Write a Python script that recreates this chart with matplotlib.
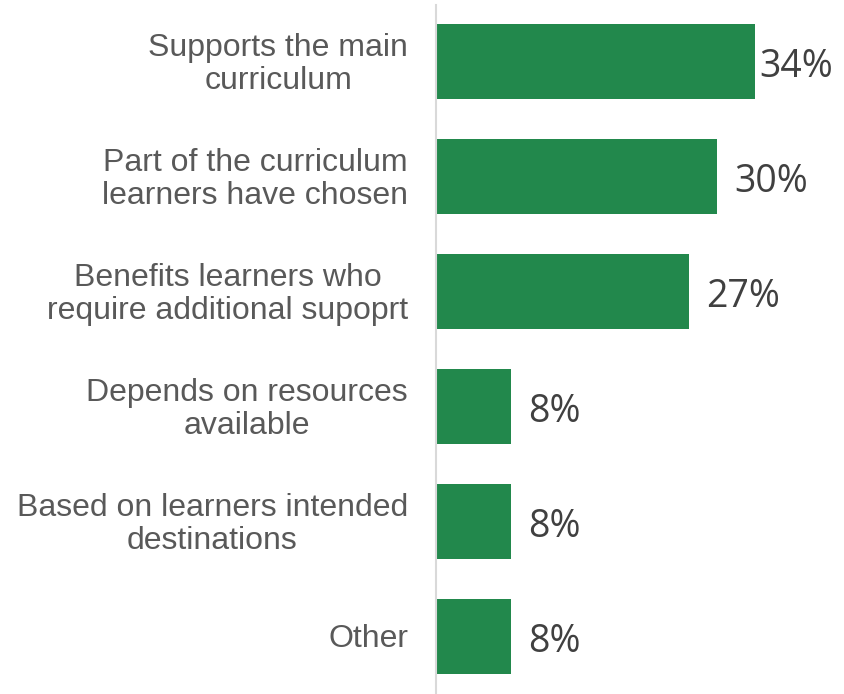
import matplotlib.pyplot as plt

categories = [
    "Supports the main\ncurriculum",
    "Part of the curriculum\nlearners have chosen",
    "Benefits learners who\nrequire additional supoprt",
    "Depends on resources\navailable",
    "Based on learners intended\ndestinations",
    "Other",
]
values = [34, 30, 27, 8, 8, 8]
value_labels = ["34%", "30%", "27%", "8%", "8%", "8%"]

BAR_GREEN = "#22884C"
LABEL_GREY = "#595959"
VALUE_GREY = "#404040"

fig = plt.figure(figsize=(8.45, 6.94), dpi=100)
ax = fig.add_axes([436 / 845, 0.0, 1 - 436 / 845 - 0.007, 1 - 5 / 694])

y = list(range(len(categories)))
ax.barh(y, values, height=0.652, color=BAR_GREEN)

ax.set_xlim(0, 43)
ax.set_ylim(5.5, -0.491)

# category names on the left, centred block right-aligned to the axis
for yi, name in zip(y, categories):
    ax.annotate(name, xy=(0, yi), xytext=(-28, -3), textcoords="offset pixels",
                ha="right", va="center", multialignment="center",
                fontsize=23, color=LABEL_GREY, family="Liberation Sans",
                linespacing=1.17)

# value labels just past the end of each bar
top = max(values)
for yi, v, lab in zip(y, values, value_labels):
    gap = 5 if v == top else 17
    ax.annotate(lab, xy=(v, yi), xytext=(gap, -6), textcoords="offset pixels",
                ha="left", va="center", fontsize=27, color=VALUE_GREY,
                family="Open Sans")

for side in ["top", "right", "bottom"]:
    ax.spines[side].set_visible(False)
ax.spines["left"].set_color("#d9d9d9")
ax.spines["left"].set_linewidth(1.5)
ax.set_xticks([])
ax.set_yticks([])

fig.savefig("out.png", dpi=100)
